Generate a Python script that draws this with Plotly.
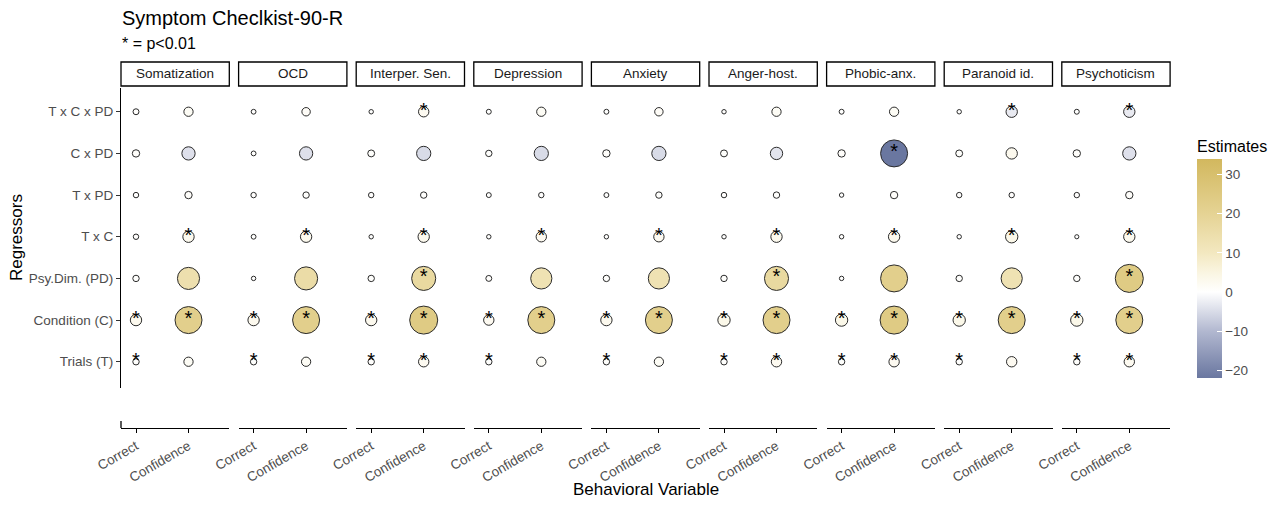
import plotly.graph_objects as go
import numpy as np

# ---------------- data ----------------
regressors = ["T x C x PD", "C x PD", "T x PD", "T x C",
              "Psy.Dim. (PD)", "Condition (C)", "Trials (T)"]
behavioral = ["Correct", "Confidence"]
facets = ["Somatization", "OCD", "Interper. Sen.", "Depression", "Anxiety",
          "Anger-host.", "Phobic-anx.", "Paranoid id.", "Psychoticism"]

# estimates per facet, rows in the order of `regressors`
correct_est = {
    "Somatization":   [0.44, 0.89, 0.32, 0.32, 0.57, 2.9, 0.57],
    "OCD":            [0.20, 0.20, 0.32, 0.20, 0.14, 2.9, 0.57],
    "Interper. Sen.": [0.14, 0.72, 0.32, 0.14, 0.57, 2.9, 0.57],
    "Depression":     [0.22, 0.57, 0.22, 0.14, 0.44, 2.3, 0.57],
    "Anxiety":        [0.22, 0.89, 0.22, 0.14, 0.57, 2.9, 0.57],
    "Anger-host.":    [0.14, 0.72, 0.32, 0.14, 0.57, 3.6, 0.57],
    "Phobic-anx.":    [0.22, 0.89, 0.14, 0.14, 0.14, 3.6, 0.57],
    "Paranoid id.":   [0.14, 0.72, 0.32, 0.14, 0.57, 3.6, 0.57],
    "Psychoticism":   [0.22, 0.89, 0.32, 0.10, 0.57, 3.6, 0.57],
}
confidence_est = {
    "Somatization":   [1.7, -4.3, 0.89, 2.9, 14.2, 22.2, 1.7],
    "OCD":            [1.3, -4.3, 0.57, 2.9, 15.7, 22.2, 1.7],
    "Interper. Sen.": [2.3, -5.1, 0.57, 2.9, 17.2, 24.1, 2.3],
    "Depression":     [1.7, -5.1, 0.32, 2.3, 12.9, 22.2, 1.7],
    "Anxiety":        [1.3, -5.1, 0.57, 2.3, 12.9, 22.2, 1.7],
    "Anger-host.":    [1.7, -3.6, 0.57, 2.9, 17.2, 22.2, 2.3],
    "Phobic-anx.":    [1.7, -22.2, 0.89, 2.9, 22.2, 24.1, 2.3],
    "Paranoid id.":   [-2.9, 2.9, 0.32, 3.6, 12.9, 22.2, 2.3],
    "Psychoticism":   [-2.9, -4.3, 0.89, 2.9, 24.1, 22.2, 2.3],
}
# significance (p < 0.01)
correct_sig = {f: [0, 0, 0, 0, 0, 1, 1] for f in facets}
confidence_sig = {
    "Somatization":   [0, 0, 0, 1, 0, 1, 0],
    "OCD":            [0, 0, 0, 1, 0, 1, 0],
    "Interper. Sen.": [1, 0, 0, 1, 1, 1, 1],
    "Depression":     [0, 0, 0, 1, 0, 1, 0],
    "Anxiety":        [0, 0, 0, 1, 0, 1, 0],
    "Anger-host.":    [0, 0, 0, 1, 1, 1, 1],
    "Phobic-anx.":    [0, 1, 0, 1, 0, 1, 1],
    "Paranoid id.":   [1, 0, 0, 1, 0, 1, 0],
    "Psychoticism":   [1, 0, 0, 1, 1, 1, 1],
}
colorbar_ticks = [-20, -10, 0, 10, 20, 30]
est_min, est_max = -22, 34

# ---------------- layout helpers ----------------
OFF = 8  # page body margin of the html page
W, H = 1277 - 2 * OFF, 509 - 2 * OFF
L_PX, R_PX, T_PX, B_PX = 121 - OFF, 1171 - OFF, 88 - OFF, 428 - OFF
plot_w, plot_h = R_PX - L_PX, B_PX - T_PX
FONT = "Liberation Sans, Arial, sans-serif"


def px_x(px):  # px given in reference-screen coordinates
    return (px - OFF - L_PX) / plot_w


def px_y(py):
    return (B_PX - (py - OFF)) / plot_h


pitch, panel_w = 117.6, 108.3
ydom_bottom = px_y(388)


def size_of(v):
    return 2.5 + 5.2 * np.sqrt(np.abs(np.asarray(v, dtype=float)))


def frac(v):
    return (v - est_min) / (est_max - est_min)


colorscale = [
    [frac(-22), "rgb(106,119,160)"],
    [frac(-10), "rgb(178,184,208)"],
    [frac(0), "rgb(255,255,255)"],
    [frac(5), "rgb(250,245,225)"],
    [frac(10), "rgb(243,232,192)"],
    [frac(20), "rgb(229,211,148)"],
    [frac(34), "rgb(210,184,94)"],
]

fig = go.Figure()
shapes, annotations = [], []
nrow = len(regressors)
yvals = [nrow - 1 - i for i in range(nrow)]

for i, f in enumerate(facets):
    ax = "" if i == 0 else str(i + 1)
    left = 121 + pitch * i
    right = left + panel_w
    xs, ys, cs, stars = [], [], [], []
    for xi, (est, sig) in enumerate([(correct_est[f], correct_sig[f]),
                                     (confidence_est[f], confidence_sig[f])]):
        for r in range(nrow):
            xs.append(xi)
            ys.append(yvals[r])
            cs.append(est[r])
            stars.append("*" if sig[r] else "")
    ss = size_of(cs)
    fig.add_trace(go.Scatter(
        x=xs, y=ys, mode="markers", xaxis="x" + ax, yaxis="y",
        marker=dict(size=ss, color=cs, coloraxis="coloraxis",
                    line=dict(color="#2b2b2b", width=1), opacity=1),
        showlegend=False, hoverinfo="skip"))
    fig.add_trace(go.Scatter(
        x=xs, y=ys, mode="text", text=stars, textposition="middle center",
        textfont=dict(size=20, color="black", family=FONT),
        xaxis="x" + ax, yaxis="y", showlegend=False, hoverinfo="skip"))

    fig.layout["xaxis" + ax] = dict(
        domain=[px_x(left), px_x(right)],
        range=[-15 / 52.5, 1 + (panel_w - 67.5) / 52.5],
        tickvals=[0, 1], ticktext=behavioral, tickangle=-30,
        tickfont=dict(size=13.5, color="#4d4d4d", family=FONT),
        showline=True, linecolor="black", linewidth=1.3,
        ticks="outside", ticklen=4, tickcolor="black", tickwidth=1.1,
        showgrid=False, zeroline=False, anchor="free", position=0,
        fixedrange=True, automargin=False)
    # strip
    shapes.append(dict(type="rect", xref="paper", yref="paper",
                       x0=px_x(left), x1=px_x(right),
                       y0=px_y(86), y1=px_y(62),
                       line=dict(color="black", width=1.3),
                       fillcolor="white"))
    annotations.append(dict(text=f, xref="paper", yref="paper",
                            x=(px_x(left) + px_x(right)) / 2, y=px_y(74),
                            showarrow=False, xanchor="center",
                            yanchor="middle",
                            font=dict(size=13.5, color="#1a1a1a",
                                      family=FONT)))

# small corner on left of x-axis
shapes.append(dict(type="line", xref="paper", yref="paper",
                   x0=0, x1=0, y0=px_y(421), y1=0,
                   line=dict(color="black", width=1.3)))

annotations += [
    dict(text="Symptom Checlkist-90-R", xref="paper", yref="paper",
         x=px_x(120), y=px_y(18), xanchor="left", yanchor="middle",
         showarrow=False,
         font=dict(size=20, color="black", family=FONT)),
    dict(text="* = p<0.01", xref="paper", yref="paper",
         x=px_x(120), y=px_y(43), xanchor="left", yanchor="middle",
         showarrow=False,
         font=dict(size=16, color="black", family=FONT)),
    dict(text="Behavioral Variable", xref="paper", yref="paper",
         x=0.5, y=px_y(501), xanchor="center", yanchor="bottom",
         showarrow=False, font=dict(size=17, color="black", family=FONT)),
    dict(text="Regressors", xref="paper", yref="paper",
         x=px_x(16), y=px_y(238), xanchor="center", yanchor="middle",
         textangle=-90, showarrow=False,
         font=dict(size=17, color="black", family=FONT)),
]

fig.update_layout(
    width=W, height=H, autosize=False,
    margin=dict(l=L_PX, r=W - R_PX, t=T_PX, b=H - B_PX, pad=0,
                autoexpand=False),
    paper_bgcolor="white", plot_bgcolor="white",
    font=dict(family=FONT),
    showlegend=False,
    yaxis=dict(domain=[ydom_bottom, 1], range=[-0.63, 6.57],
               tickvals=yvals, ticktext=regressors,
               tickfont=dict(size=13.5, color="#4d4d4d", family=FONT),
               showline=True, linecolor="black", linewidth=1.3,
               ticks="outside", ticklen=4, tickcolor="#333", tickwidth=1.1,
               showgrid=False, zeroline=False, anchor="x", fixedrange=True,
               automargin=False),
    coloraxis=dict(
        colorscale=colorscale, cmin=est_min, cmax=est_max,
        colorbar=dict(
            title=dict(text="Estimates", side="top",
                       font=dict(size=16, color="black", family=FONT)),
            x=px_x(1197), xanchor="left", xpad=0,
            y=px_y(257.5), yanchor="middle", ypad=0,
            len=241 / plot_h, lenmode="fraction",
            thickness=25, thicknessmode="pixels",
            outlinewidth=0,
            tickvals=colorbar_ticks, ticks="inside", ticklen=5,
            tickcolor="white", tickwidth=1,
            tickfont=dict(size=13.5, color="#4d4d4d", family=FONT))),
    shapes=shapes, annotations=annotations,
)

fig.write_html("out.html")
